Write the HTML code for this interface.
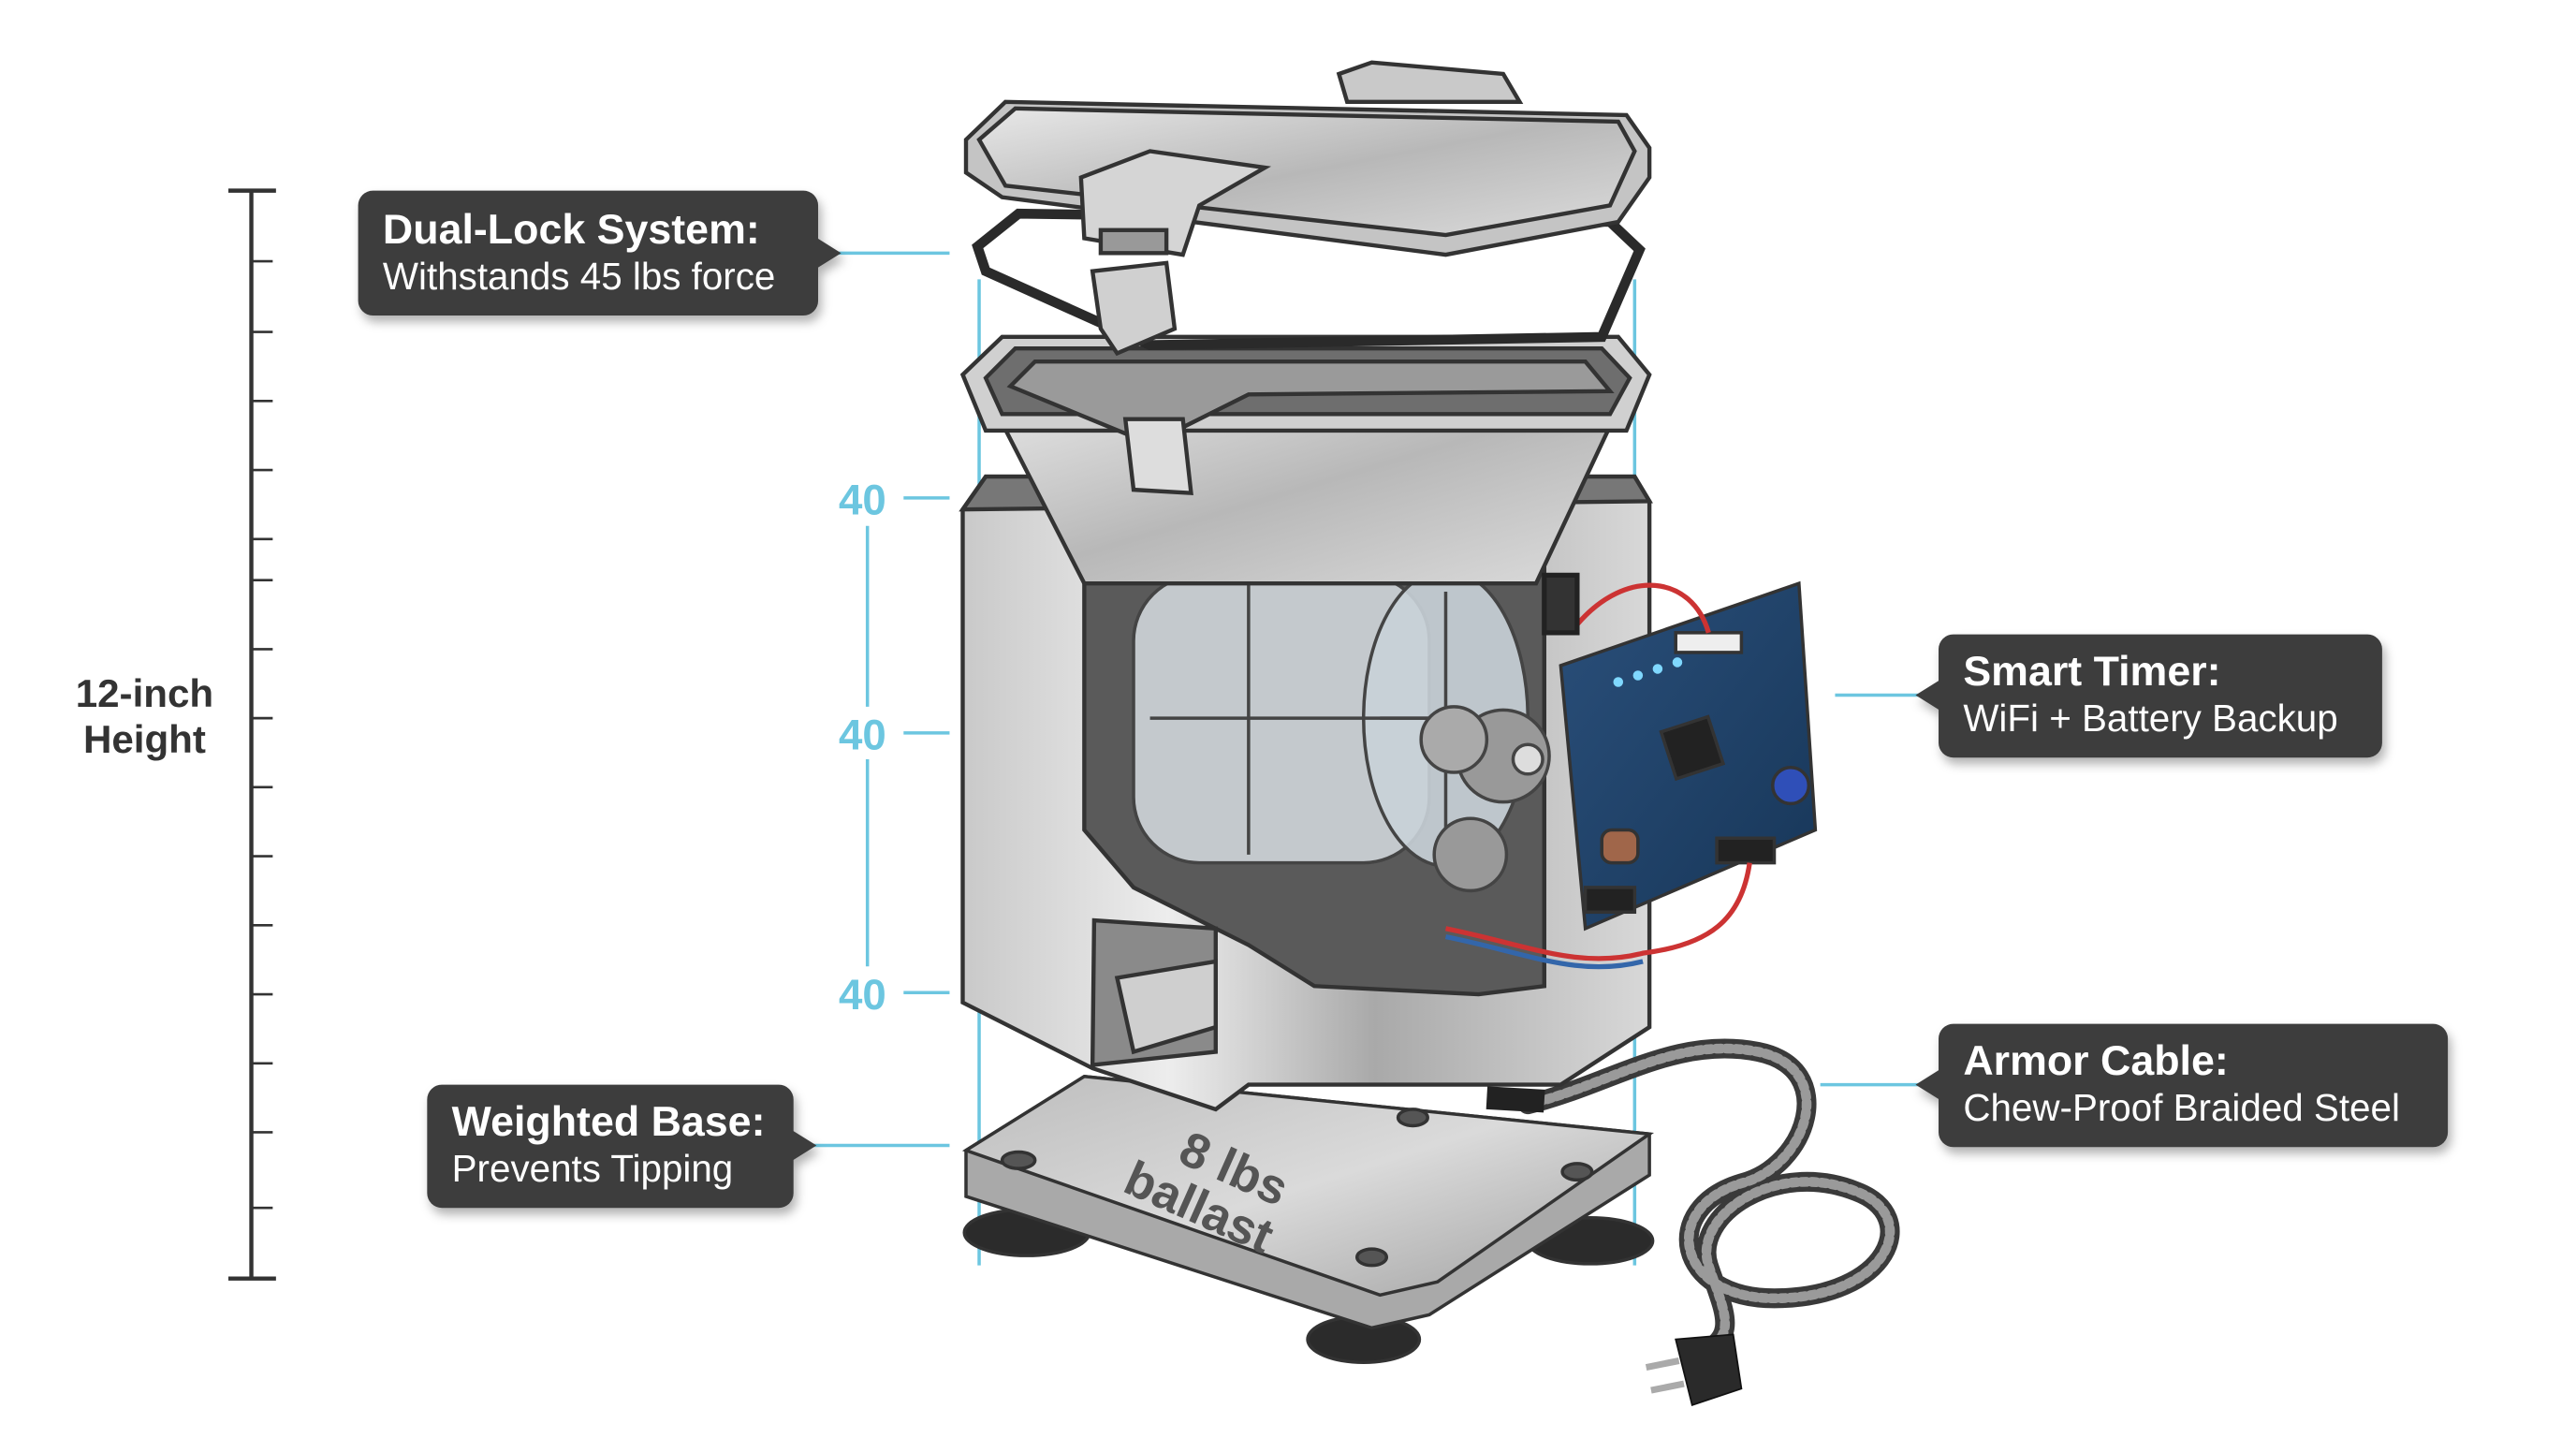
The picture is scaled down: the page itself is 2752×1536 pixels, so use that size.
<!DOCTYPE html>
<html><head><meta charset="utf-8"><style>
html,body{margin:0;padding:0;background:#fff;}
svg{display:block;}
text{font-family:"Liberation Sans",sans-serif;}
</style></head><body>
<svg width="2752" height="1536" viewBox="0 0 1568 875" preserveAspectRatio="none" xmlns="http://www.w3.org/2000/svg">
<defs>
<linearGradient id="steel" x1="0" y1="0" x2="1" y2="0">
<stop offset="0" stop-color="#c9c9c9"/><stop offset="0.3" stop-color="#ededed"/><stop offset="0.6" stop-color="#a9a9a9"/><stop offset="1" stop-color="#d8d8d8"/></linearGradient>
<linearGradient id="steel2" x1="0" y1="0" x2="1" y2="1">
<stop offset="0" stop-color="#e8e8e8"/><stop offset="0.5" stop-color="#b8b8b8"/><stop offset="1" stop-color="#dcdcdc"/></linearGradient>
<linearGradient id="plate" x1="0" y1="0" x2="1" y2="1">
<stop offset="0" stop-color="#bdbdbd"/><stop offset="0.5" stop-color="#dadada"/><stop offset="1" stop-color="#9e9e9e"/></linearGradient>
<linearGradient id="board" x1="0" y1="0" x2="1" y2="1">
<stop offset="0" stop-color="#2a4f7a"/><stop offset="1" stop-color="#173658"/></linearGradient>
<filter id="sh" x="-10%" y="-10%" width="130%" height="140%"><feDropShadow dx="2" dy="4" stdDeviation="3" flood-color="#000" flood-opacity="0.3"/></filter>
</defs>

<!-- ruler -->
<g stroke="#333" stroke-width="2.5" fill="none">
<line x1="153" y1="116" x2="153" y2="778"/>
<line x1="139" y1="116" x2="168" y2="116"/>
<line x1="139" y1="778" x2="168" y2="778"/>
<g stroke-width="1.5">
<line x1="153" y1="159" x2="166" y2="159"/><line x1="153" y1="202" x2="166" y2="202"/><line x1="153" y1="244" x2="166" y2="244"/><line x1="153" y1="286" x2="166" y2="286"/><line x1="153" y1="328" x2="166" y2="328"/><line x1="153" y1="353" x2="166" y2="353"/><line x1="153" y1="395" x2="166" y2="395"/><line x1="153" y1="437" x2="166" y2="437"/><line x1="153" y1="479" x2="166" y2="479"/><line x1="153" y1="521" x2="166" y2="521"/><line x1="153" y1="563" x2="166" y2="563"/><line x1="153" y1="605" x2="166" y2="605"/><line x1="153" y1="647" x2="166" y2="647"/><line x1="153" y1="689" x2="166" y2="689"/><line x1="153" y1="735" x2="166" y2="735"/>
</g></g>
<text x="88" y="430" font-size="24" font-weight="bold" fill="#333" text-anchor="middle">12-inch</text>
<text x="88" y="458" font-size="24" font-weight="bold" fill="#333" text-anchor="middle">Height</text>

<!-- cyan guides -->
<g stroke="#6cc6e0" stroke-width="2" fill="none">
<line x1="596" y1="170" x2="596" y2="770"/><line x1="995" y1="170" x2="995" y2="770"/>
<line x1="528" y1="320" x2="528" y2="430"/><line x1="528" y1="462" x2="528" y2="588"/>
<line x1="550" y1="303" x2="578" y2="303"/><line x1="550" y1="446" x2="578" y2="446"/><line x1="550" y1="604" x2="578" y2="604"/>
<line x1="510" y1="154" x2="578" y2="154"/><line x1="495" y1="697" x2="578" y2="697"/>
<line x1="1117" y1="423" x2="1168" y2="423"/><line x1="1108" y1="660" x2="1168" y2="660"/>
<line x1="835" y1="285" x2="835" y2="360"/><line x1="835" y1="700" x2="835" y2="765"/>
</g>
<g fill="#6cc6e0" font-size="26" font-weight="bold" text-anchor="middle">
<text x="525" y="313">40</text><text x="525" y="456">40</text><text x="525" y="614">40</text></g>

<!-- base plate + feet -->
<g stroke="#333" stroke-width="2">
<ellipse cx="625" cy="750" rx="38" ry="14" fill="#2b2b2b"/>
<ellipse cx="968" cy="755" rx="38" ry="14" fill="#2b2b2b"/>
<ellipse cx="830" cy="815" rx="34" ry="14" fill="#2b2b2b"/>
<path d="M588 700 L660 655 L1004 690 L1004 715 L870 800 L835 808 L588 728 Z" fill="#a9a9a9"/>
<path d="M588 700 L660 655 L1004 690 L875 780 L840 788 Z" fill="url(#plate)"/>
<ellipse cx="620" cy="706" rx="10" ry="5" fill="#555"/><ellipse cx="860" cy="680" rx="9" ry="5" fill="#555"/><ellipse cx="960" cy="713" rx="9" ry="5" fill="#555"/><ellipse cx="835" cy="765" rx="9" ry="5" fill="#555"/>
</g>
<g transform="translate(745,725) rotate(24)" font-weight="bold" fill="#555" text-anchor="middle">
<text x="0" y="-5" font-size="30">8 lbs</text><text x="-10" y="25" font-size="30">ballast</text></g>

<!-- cable -->
<g fill="none" stroke-linecap="round">
<path d="M930 672 C980 660 1020 630 1070 640 C1120 650 1100 710 1060 720 C1010 735 1020 790 1080 790 C1150 790 1170 740 1130 725 C1080 705 1030 740 1040 770 C1050 800 1060 815 1030 825" stroke="#3a3a3a" stroke-width="12"/>
<path d="M930 672 C980 660 1020 630 1070 640 C1120 650 1100 710 1060 720 C1010 735 1020 790 1080 790 C1150 790 1170 740 1130 725 C1080 705 1030 740 1040 770 C1050 800 1060 815 1030 825" stroke="#9a9a9a" stroke-width="6" stroke-dasharray="3 3"/>
</g>
<path d="M1020 815 L1055 812 L1060 845 L1030 855 Z" fill="#2a2a2a" stroke="#111"/>
<line x1="1022" y1="828" x2="1002" y2="832" stroke="#aaa" stroke-width="4"/><line x1="1025" y1="842" x2="1005" y2="846" stroke="#aaa" stroke-width="4"/>
<path d="M905 668 L940 670" stroke="#222" stroke-width="14"/>

<!-- body -->
<g stroke="#333" stroke-width="2.5">
<path d="M586 310 L600 290 L995 290 L1004 305 L1004 625 L950 660 L760 660 L740 675 L665 650 L586 610 Z" fill="url(#steel)"/>
<path d="M600 290 L995 290 L1004 305 L586 310 Z" fill="#777"/>
<path d="M660 330 L940 330 L940 600 L900 605 L800 600 L760 575 L690 540 L660 505 Z" fill="#5a5a5a"/>
<path d="M666 560 L740 565 L740 640 L665 648 Z" fill="#8a8a8a"/>
<path d="M680 595 L740 585 L740 625 L690 640 Z" fill="#cfcfcf"/>
</g>
<!-- drum -->
<g stroke="#444" stroke-width="2">
<rect x="690" y="350" width="180" height="175" rx="40" fill="#d7dde2" fill-opacity="0.85"/>
<ellipse cx="880" cy="437" rx="50" ry="90" fill="#c9d1d8" fill-opacity="0.9"/>
<line x1="700" y1="437" x2="880" y2="437"/><line x1="760" y1="355" x2="760" y2="520"/>
<line x1="880" y1="360" x2="880" y2="515"/><line x1="840" y1="437" x2="920" y2="437"/>
<circle cx="915" cy="460" r="28" fill="#999"/><circle cx="885" cy="450" r="20" fill="#aaa"/><circle cx="895" cy="520" r="22" fill="#999"/>
<circle cx="930" cy="462" r="9" fill="#ddd"/>
</g>
<!-- hopper -->
<g stroke="#333" stroke-width="2.5">
<path d="M600 238 L660 355 L935 355 L990 238 Z" fill="url(#steel2)"/>
<path d="M586 228 L610 205 L985 205 L1004 228 L990 262 L600 262 Z" fill="#d0d0d0"/>
<path d="M600 230 L618 212 L975 212 L992 230 L980 252 L610 252 Z" fill="#6e6e6e"/>
<path d="M615 235 L630 220 L965 220 L980 238 L760 240 L700 270 Z" fill="#9a9a9a"/>
<path d="M685 255 L720 255 L725 300 L690 298 Z" fill="#ddd"/>
</g>
<!-- gasket -->
<path d="M595 150 L620 130 L980 135 L998 152 L975 205 L700 210 L600 165 Z" fill="none" stroke="#2a2a2a" stroke-width="6"/>
<!-- lid -->
<g stroke="#333" stroke-width="2.5">
<path d="M588 85 L612 62 L990 70 L1004 90 L1004 108 L985 135 L880 155 L610 120 L588 105 Z" fill="#c4c4c4"/>
<path d="M596 85 L618 66 L985 74 L995 92 L980 125 L880 143 L612 113 Z" fill="url(#steel2)"/>
<path d="M815 45 L835 38 L915 45 L925 62 L820 62 Z" fill="#c9c9c9"/>
<path d="M658 108 L700 92 L770 102 L730 125 L720 155 L660 145 Z" fill="#d5d5d5"/>
<rect x="670" y="140" width="40" height="14" fill="#999"/>
<path d="M665 165 L710 160 L715 200 L680 215 L670 200 Z" fill="#d0d0d0"/>
</g>
<!-- board -->
<g stroke="#333" stroke-width="2">
<path d="M950 405 L1095 355 L1105 505 L965 565 Z" fill="url(#board)"/>
<rect x="1015" y="440" width="30" height="30" fill="#222" transform="rotate(-18 1030 455)"/>
<circle cx="1090" cy="478" r="11" fill="#2f4fb8"/>
<rect x="975" y="505" width="22" height="20" rx="6" fill="#a0664a"/>
<rect x="1020" y="385" width="40" height="12" fill="#eee"/>
<rect x="1045" y="510" width="35" height="15" fill="#222"/>
<rect x="965" y="540" width="30" height="15" fill="#222"/>
</g>
<g fill="#7fd8ff"><circle cx="985" cy="415" r="3"/><circle cx="997" cy="411" r="3"/><circle cx="1009" cy="407" r="3"/><circle cx="1021" cy="403" r="3"/></g>
<g fill="none" stroke-width="3">
<path d="M960 380 C990 345 1030 350 1040 385" stroke="#c33"/>
<path d="M880 565 C930 575 960 590 1000 580 C1040 575 1060 560 1065 525" stroke="#c33"/>
<path d="M880 570 C930 580 960 595 1000 585" stroke="#36a"/>
<path d="M940 350 L960 350 L960 385 L940 385 Z" stroke="#222" fill="#333"/>
</g>

<!-- callouts -->
<g filter="url(#sh)" fill="#3d3d3d">
<rect x="218" y="116" width="280" height="76" rx="9"/><path d="M496 144 L512 154 L496 164 Z"/>
<rect x="260" y="660" width="223" height="75" rx="9"/><path d="M481 687 L497 697 L481 707 Z"/>
<rect x="1180" y="386" width="270" height="75" rx="9"/><path d="M1182 413 L1166 423 L1182 433 Z"/>
<rect x="1180" y="623" width="310" height="75" rx="9"/><path d="M1182 650 L1166 660 L1182 670 Z"/>
</g>
<g fill="#fff">
<text x="233" y="148" font-size="25.5" font-weight="bold">Dual-Lock System:</text>
<text x="233" y="176" font-size="23">Withstands 45 lbs force</text>
<text x="275" y="691" font-size="25.5" font-weight="bold">Weighted Base:</text>
<text x="275" y="719" font-size="23">Prevents Tipping</text>
<text x="1195" y="417" font-size="25.5" font-weight="bold">Smart Timer:</text>
<text x="1195" y="445" font-size="23">WiFi + Battery Backup</text>
<text x="1195" y="654" font-size="25.5" font-weight="bold">Armor Cable:</text>
<text x="1195" y="682" font-size="23">Chew-Proof Braided Steel</text>
</g>
</svg>
</body></html>
